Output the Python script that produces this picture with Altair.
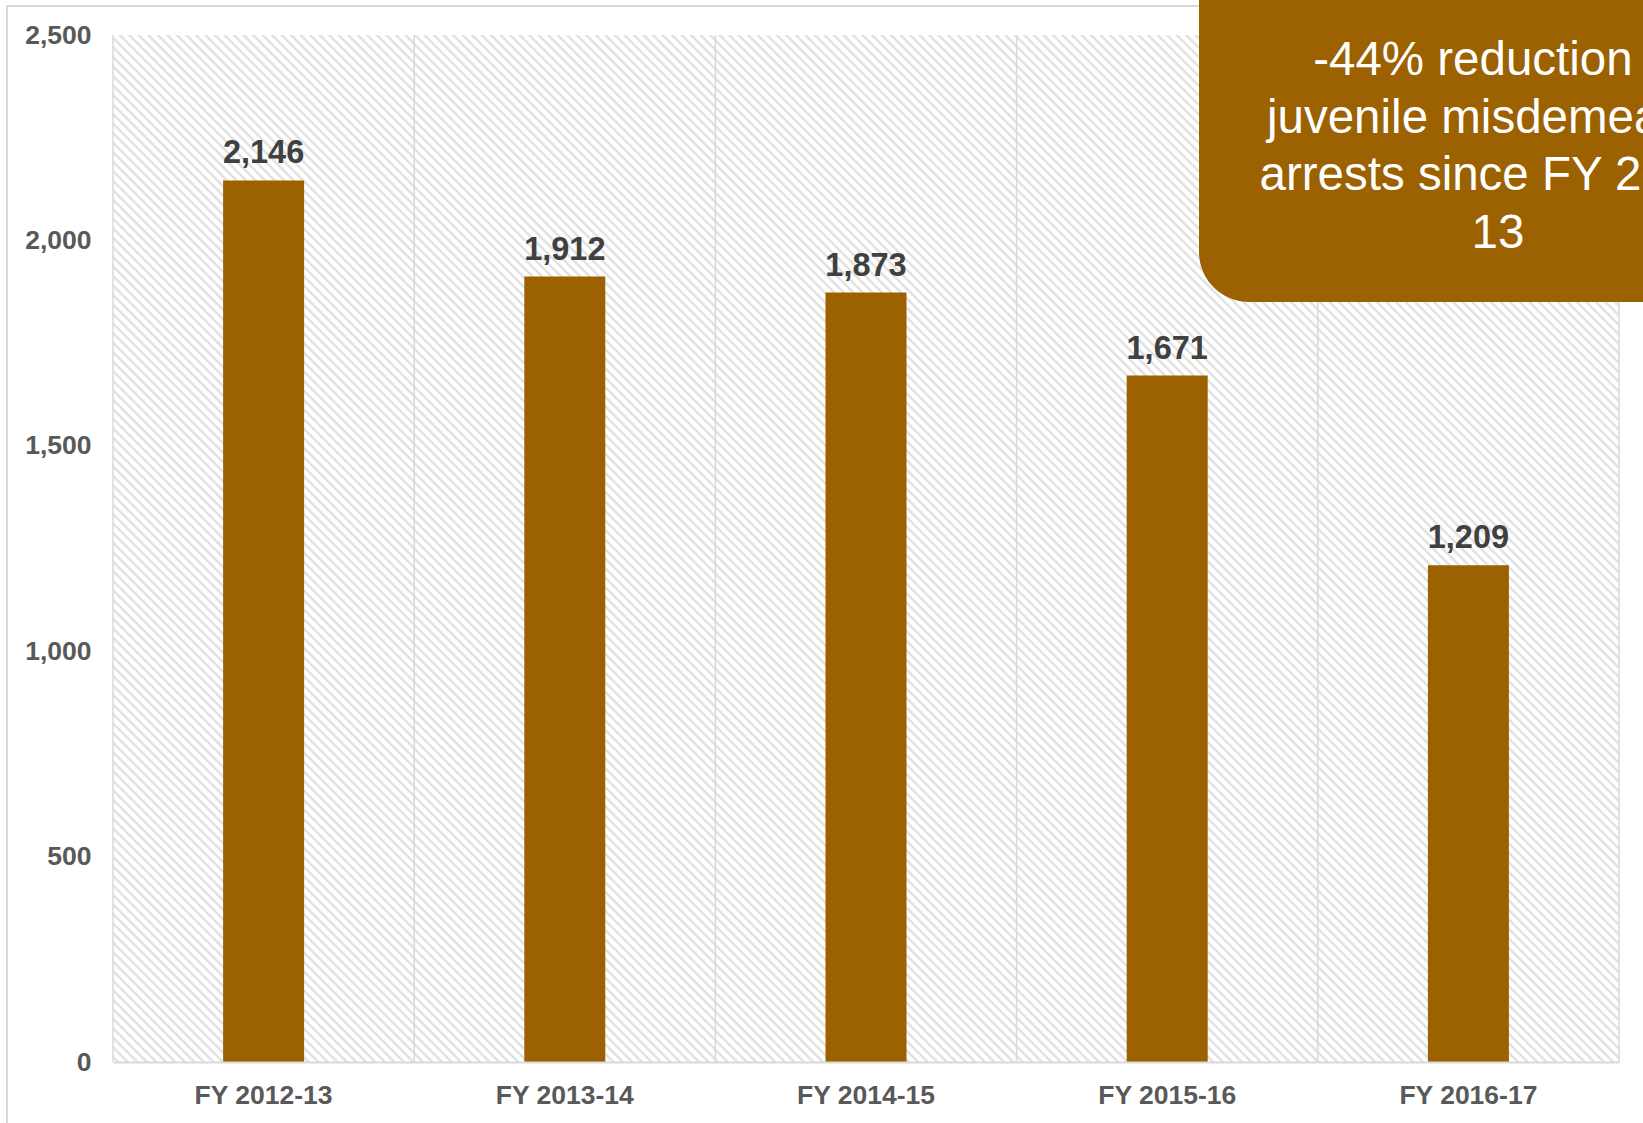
import altair as alt
import pandas as pd

# Juvenile misdemeanor arrests by fiscal year
years = ["FY 2012-13", "FY 2013-14", "FY 2014-15", "FY 2015-16", "FY 2016-17"]
arrests = [2146, 1912, 1873, 1671, 1209]
y_ticks = [0, 500, 1000, 1500, 2000, 2500]
callout_lines = ["-44% reduction in", "juvenile misdemeanor", "arrests since FY 2012-", "13"]

W, H = 1506, 1027
BAR = "#9C6100"
LINE = "#d9d9d9"
FONT = "Liberation Sans"

df = pd.DataFrame({"year": years, "arrests": arrests})

# diagonal hatch for the plot background, built as a striped linear gradient
ratio = H / W
s = (1 + ratio) / (1 + ratio ** 2)
n_stripes = int((W + H) / 9.5)
stops = []
for i in range(n_stripes):
    stops.append({"offset": i / n_stripes, "color": "#ffffff"})
    stops.append({"offset": (i + 0.25) / n_stripes, "color": "#ffffff"})
    stops.append({"offset": (i + 0.55) / n_stripes, "color": "#dadada"})
    stops.append({"offset": (i + 0.85) / n_stripes, "color": "#ffffff"})
stops.append({"offset": 1, "color": "#ffffff"})
hatch = alt.LinearGradient(
    gradient="linear", stops=stops, x1=0, y1=1, x2=s, y2=1 - s * ratio
)

one_row = alt.Data(values=[{}])

background = alt.Chart(one_row).mark_rect(fill=hatch).encode(
    x=alt.value(0), x2=alt.value(W), y=alt.value(0), y2=alt.value(H)
)

x_enc = alt.X(
    "year:N",
    sort=years,
    scale=alt.Scale(paddingInner=0, paddingOuter=0),
    axis=alt.Axis(
        title=None,
        grid=False,
        ticks=False,
        bandPosition=0.5,
        domainColor=LINE,
        domainWidth=2,
        labelFont=FONT,
        labelFontSize=26.5,
        labelFontWeight="bold",
        labelColor="#595959",
        labelPadding=20,
        labelAngle=0,
        zindex=1,
    ),
)
y_enc = alt.Y(
    "arrests:Q",
    scale=alt.Scale(domain=[0, 2500], nice=False),
    axis=alt.Axis(
        title=None,
        grid=False,
        ticks=False,
        domain=False,
        values=y_ticks,
        format=",d",
        labelFont=FONT,
        labelFontSize=26.5,
        labelFontWeight="bold",
        labelColor="#595959",
        labelPadding=22,
        zindex=1,
    ),
)

bars = alt.Chart(df).mark_bar(size=81, color=BAR).encode(x=x_enc, y=y_enc)

# vertical separators at the start of each category band, plus the right edge
separators = alt.Chart(df).mark_rule(color=LINE, strokeWidth=1.5).encode(
    x=alt.X("year:N", sort=years, bandPosition=0),
    y=alt.value(0),
    y2=alt.value(H),
)
right_edge = alt.Chart(one_row).mark_rule(color=LINE, strokeWidth=1.5).encode(
    x=alt.value(W), y=alt.value(0), y2=alt.value(H)
)

labels = alt.Chart(df).mark_text(
    font=FONT,
    fontSize=32.5,
    fontWeight="bold",
    color="#404040",
    baseline="alphabetic",
    dy=-17,
).encode(
    x=alt.X("year:N", sort=years),
    y="arrests:Q",
    text=alt.Text("arrests:Q", format=","),
)

frame = alt.Chart(one_row).mark_rect(
    fillOpacity=0, stroke=LINE, strokeWidth=2
).encode(
    x=alt.value(-106), x2=alt.value(2000), y=alt.value(-29), y2=alt.value(1500)
)

callout_box = alt.Chart(one_row).mark_rect(color=BAR, cornerRadius=50).encode(
    x=alt.value(1086), x2=alt.value(1700), y=alt.value(-100), y2=alt.value(267)
)
callout_text = alt.Chart(one_row).mark_text(
    text=callout_lines,
    font=FONT,
    fontSize=47.5,
    color="#ffffff",
    align="center",
    baseline="alphabetic",
    lineHeight=57.5,
).encode(x=alt.value(1385), y=alt.value(40))

chart = (
    alt.layer(
        background,
        bars,
        separators,
        right_edge,
        labels,
        frame,
        callout_box,
        callout_text,
    )
    .properties(
        width=W,
        height=H,
        padding={"left": 113, "top": 35, "right": 24, "bottom": 61},
        autosize=alt.AutoSizeParams(type="none"),
        background="#ffffff",
    )
    .configure_view(stroke=None)
)

chart.save("out.html", embed_options={"renderer": "svg", "actions": False})
